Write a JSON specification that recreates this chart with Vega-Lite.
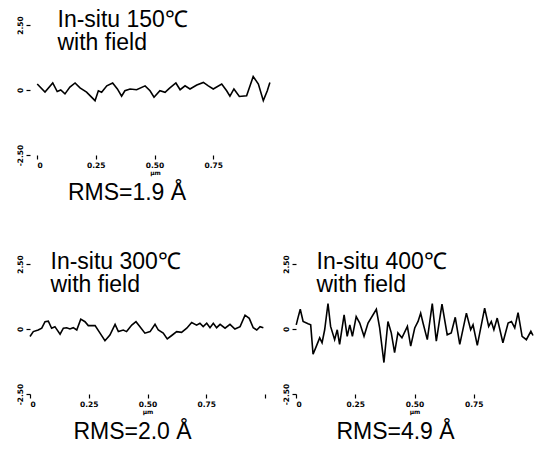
{
  "$schema": "https://vega.github.io/schema/vega-lite/v6.json",
  "background": "white",
  "padding": {"left": 16, "top": 8, "right": 0, "bottom": 0},
  "spacing": 45,
  "config": {
    "view": {"stroke": null},
    "font": "Liberation Sans",
    "axis": {
      "grid": false,
      "domain": false,
      "labelFont": "DejaVu Sans",
      "labelFontWeight": "bold",
      "labelFontSize": 7.5,
      "labelColor": "black",
      "tickColor": "black",
      "tickSize": 4,
      "tickWidth": 1.2,
      "titleColor": "black"
    },
    "title": {"color": "black"}
  },
  "datasets": {
    "t150": [
      {"x":0.001,"y":0.23},{"x":0.034,"y":-0.08},{"x":0.067,"y":0.27},{"x":0.086,"y":-0.06},{"x":0.101,"y":0.0},{"x":0.119,"y":-0.15},{"x":0.140,"y":0.11},{"x":0.162,"y":0.27},{"x":0.183,"y":0.08},{"x":0.211,"y":-0.08},{"x":0.247,"y":-0.41},{"x":0.261,"y":-0.03},{"x":0.275,"y":-0.09},{"x":0.297,"y":0.16},{"x":0.322,"y":0.27},{"x":0.342,"y":0.04},{"x":0.360,"y":-0.24},{"x":0.374,"y":-0.03},{"x":0.396,"y":0.04},{"x":0.424,"y":0.01},{"x":0.460,"y":0.16},{"x":0.481,"y":-0.03},{"x":0.498,"y":-0.28},{"x":0.523,"y":-0.03},{"x":0.545,"y":-0.09},{"x":0.563,"y":0.06},{"x":0.591,"y":0.27},{"x":0.609,"y":0.01},{"x":0.630,"y":0.16},{"x":0.651,"y":0.04},{"x":0.680,"y":0.19},{"x":0.708,"y":0.29},{"x":0.729,"y":0.16},{"x":0.750,"y":0.04},{"x":0.786,"y":0.23},{"x":0.807,"y":-0.03},{"x":0.821,"y":-0.24},{"x":0.838,"y":0.04},{"x":0.861,"y":-0.25},{"x":0.892,"y":-0.22},{"x":0.920,"y":0.52},{"x":0.942,"y":0.23},{"x":0.963,"y":-0.41},{"x":0.980,"y":-0.03},{"x":0.991,"y":0.29}
    ],
    "t300": [
      {"x":0.000,"y":-0.29},{"x":0.014,"y":-0.10},{"x":0.035,"y":-0.04},{"x":0.050,"y":0.03},{"x":0.064,"y":0.28},{"x":0.078,"y":0.30},{"x":0.092,"y":0.03},{"x":0.106,"y":0.09},{"x":0.128,"y":-0.20},{"x":0.142,"y":0.03},{"x":0.156,"y":0.05},{"x":0.170,"y":0.0},{"x":0.184,"y":0.05},{"x":0.199,"y":-0.04},{"x":0.216,"y":0.38},{"x":0.234,"y":0.28},{"x":0.248,"y":0.13},{"x":0.277,"y":0.13},{"x":0.298,"y":-0.16},{"x":0.319,"y":-0.45},{"x":0.340,"y":-0.23},{"x":0.362,"y":0.18},{"x":0.376,"y":-0.10},{"x":0.397,"y":-0.04},{"x":0.411,"y":-0.10},{"x":0.433,"y":0.15},{"x":0.451,"y":0.28},{"x":0.468,"y":0.09},{"x":0.489,"y":-0.16},{"x":0.511,"y":-0.10},{"x":0.532,"y":0.18},{"x":0.546,"y":-0.04},{"x":0.567,"y":-0.16},{"x":0.584,"y":-0.38},{"x":0.603,"y":-0.25},{"x":0.624,"y":-0.10},{"x":0.645,"y":-0.13},{"x":0.667,"y":0.03},{"x":0.688,"y":0.25},{"x":0.709,"y":0.15},{"x":0.723,"y":0.22},{"x":0.737,"y":0.09},{"x":0.752,"y":0.22},{"x":0.766,"y":0.05},{"x":0.780,"y":0.22},{"x":0.794,"y":0.05},{"x":0.809,"y":0.18},{"x":0.830,"y":0.03},{"x":0.851,"y":0.18},{"x":0.872,"y":0.0},{"x":0.894,"y":0.09},{"x":0.915,"y":0.53},{"x":0.933,"y":0.41},{"x":0.950,"y":0.05},{"x":0.965,"y":-0.04},{"x":0.979,"y":0.09},{"x":0.993,"y":0.05}
    ],
    "t400": [
      {"x":0.001,"y":0.16},{"x":0.008,"y":0.42},{"x":0.018,"y":0.76},{"x":0.030,"y":0.29},{"x":0.051,"y":0.20},{"x":0.062,"y":0.16},{"x":0.072,"y":-0.97},{"x":0.086,"y":-0.66},{"x":0.100,"y":-0.34},{"x":0.110,"y":-0.53},{"x":0.121,"y":-0.03},{"x":0.135,"y":0.98},{"x":0.146,"y":0.10},{"x":0.163,"y":-0.41},{"x":0.174,"y":-0.03},{"x":0.184,"y":-0.59},{"x":0.203,"y":0.54},{"x":0.216,"y":-0.28},{"x":0.227,"y":0.16},{"x":0.238,"y":-0.28},{"x":0.254,"y":0.48},{"x":0.269,"y":0.23},{"x":0.287,"y":-0.28},{"x":0.304,"y":0.23},{"x":0.339,"y":0.76},{"x":0.353,"y":0.04},{"x":0.371,"y":-1.29},{"x":0.388,"y":0.29},{"x":0.402,"y":-0.15},{"x":0.416,"y":-0.91},{"x":0.430,"y":-0.15},{"x":0.447,"y":-0.34},{"x":0.470,"y":0.10},{"x":0.484,"y":-0.66},{"x":0.501,"y":0.04},{"x":0.515,"y":0.29},{"x":0.526,"y":0.61},{"x":0.536,"y":0.23},{"x":0.554,"y":-0.41},{"x":0.575,"y":0.98},{"x":0.592,"y":-0.47},{"x":0.616,"y":0.96},{"x":0.638,"y":-0.22},{"x":0.655,"y":-0.15},{"x":0.672,"y":0.45},{"x":0.691,"y":-0.59},{"x":0.719,"y":0.61},{"x":0.737,"y":-0.03},{"x":0.747,"y":0.16},{"x":0.765,"y":-0.63},{"x":0.796,"y":0.80},{"x":0.813,"y":0.10},{"x":0.824,"y":0.29},{"x":0.835,"y":-0.03},{"x":0.849,"y":0.42},{"x":0.873,"y":-0.53},{"x":0.895,"y":0.23},{"x":0.909,"y":0.29},{"x":0.923,"y":0.04},{"x":0.937,"y":0.63},{"x":0.954,"y":-0.28},{"x":0.972,"y":-0.41},{"x":0.991,"y":-0.09},{"x":1.000,"y":-0.25}
    ]
  },
  "vconcat": [
    {
      "width": 242,
      "height": 130,
      "data": {"name": "t150"},
      "title": {"text": "RMS=1.9 Å", "orient": "bottom", "anchor": "middle", "dx": -24, "fontSize": 23, "font": "Liberation Sans", "fontWeight": "normal", "offset": 6},
      "mark": {"type": "line", "color": "black", "strokeWidth": 1.6},
      "encoding": {
        "x": {"field": "x", "type": "quantitative", "scale": {"domain": [0, 1], "nice": false, "range": [7, 242]},
          "axis": {"values": [0, 0.25, 0.5, 0.75], "labelExpr": "datum.value == 0 ? '0' : format(datum.value, '.2f')", "labelPadding": 2, "title": "µm", "titleFontSize": 6, "titlePadding": 1, "titleFont": "DejaVu Sans", "titleX": 125}},
        "y": {"field": "y", "type": "quantitative", "scale": {"domain": [-2.5, 2.5], "nice": false},
          "axis": {"values": [-2.5, 0, 2.5], "labelExpr": "datum.value == 0 ? '0' : datum.value > 0 ? '2.50' : '-2.50'", "labelAngle": -90, "labelAlign": "center", "labelBaseline": "bottom", "labelPadding": 2,
            "title": ["In-situ 150℃", "with field"], "titleAngle": 0, "titleX": 27, "titleY": -17, "titleAlign": "left", "titleBaseline": "top", "titleFontSize": 23, "titleFontWeight": "normal", "titleFont": "Liberation Sans", "titleLineHeight": 23}}
      }
    },
    {
      "spacing": 15,
      "hconcat": [
        {
          "width": 235,
          "height": 130,
          "data": {"name": "t300"},
          "title": {"text": "RMS=2.0 Å", "orient": "bottom", "anchor": "middle", "dx": -15, "fontSize": 23, "font": "Liberation Sans", "fontWeight": "normal", "offset": 6},
          "mark": {"type": "line", "color": "black", "strokeWidth": 1.6},
          "encoding": {
            "x": {"field": "x", "type": "quantitative", "scale": {"domain": [0, 1], "nice": false},
              "axis": {"values": [0, 0.25, 0.5, 0.75, 1], "labelExpr": "datum.value == 0 ? '0' : datum.value == 1 ? '' : format(datum.value, '.2f')", "labelPadding": 2, "title": "µm", "titleFontSize": 6, "titlePadding": 1, "titleFont": "DejaVu Sans"}},
            "y": {"field": "y", "type": "quantitative", "scale": {"domain": [-2.5, 2.5], "nice": false},
              "axis": {"values": [-2.5, 0, 2.5], "labelExpr": "datum.value == 0 ? '0' : datum.value > 0 ? '2.50' : '-2.50'", "labelAngle": -90, "labelAlign": "center", "labelBaseline": "bottom", "labelPadding": 2,
                "title": ["In-situ 300℃", "with field"], "titleAngle": 0, "titleX": 20, "titleY": -14, "titleAlign": "left", "titleBaseline": "top", "titleFontSize": 23, "titleFontWeight": "normal", "titleFont": "Liberation Sans", "titleLineHeight": 23}}
          }
        },
        {
          "width": 237,
          "height": 130,
          "data": {"name": "t400"},
          "title": {"text": "RMS=4.9 Å", "orient": "bottom", "anchor": "middle", "dx": -19, "fontSize": 23, "font": "Liberation Sans", "fontWeight": "normal", "offset": 6},
          "mark": {"type": "line", "color": "black", "strokeWidth": 1.6},
          "encoding": {
            "x": {"field": "x", "type": "quantitative", "scale": {"domain": [0, 1], "nice": false},
              "axis": {"values": [0, 0.25, 0.5, 0.75], "labelExpr": "datum.value == 0 ? '0' : format(datum.value, '.2f')", "labelPadding": 2, "title": "µm", "titleFontSize": 6, "titlePadding": 1, "titleFont": "DejaVu Sans"}},
            "y": {"field": "y", "type": "quantitative", "scale": {"domain": [-2.5, 2.5], "nice": false},
              "axis": {"values": [-2.5, 0, 2.5], "labelExpr": "datum.value == 0 ? '0' : datum.value > 0 ? '2.50' : '-2.50'", "labelAngle": -90, "labelAlign": "center", "labelBaseline": "bottom", "labelPadding": 2,
                "title": ["In-situ 400℃", "with field"], "titleAngle": 0, "titleX": 20, "titleY": -14, "titleAlign": "left", "titleBaseline": "top", "titleFontSize": 23, "titleFontWeight": "normal", "titleFont": "Liberation Sans", "titleLineHeight": 23}}
          }
        }
      ]
    }
  ]
}
